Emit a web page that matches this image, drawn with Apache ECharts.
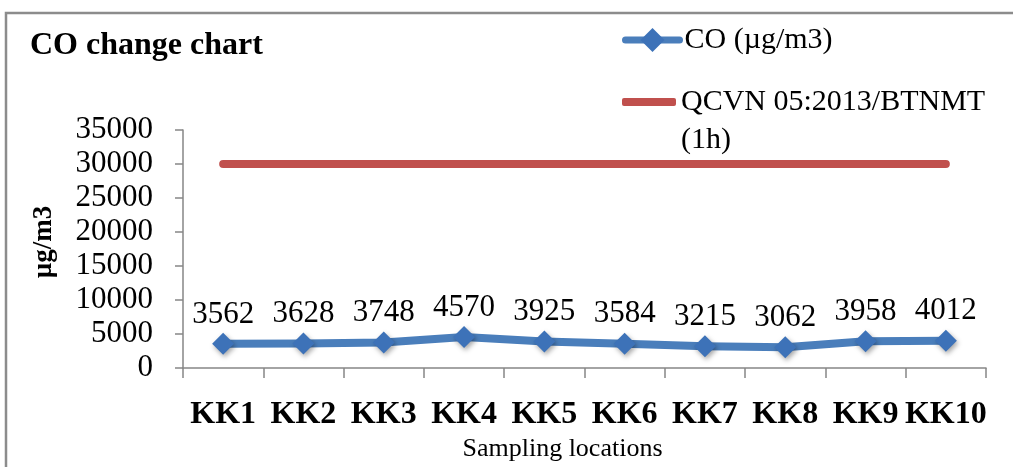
<!DOCTYPE html>
<html>
<head>
<meta charset="utf-8">
<title>CO change chart</title>
<script src="https://cdn.jsdelivr.net/npm/echarts@6/dist/echarts.min.js"></script>
<style>
  html, body { margin: 0; padding: 0; background: #ffffff; }
  #chart { width: 1013px; height: 467px; }
</style>
</head>
<body>
<div id="chart"></div>
<script>
// Sampling points and measured CO concentrations (µg/m3)
const categories = ['KK1', 'KK2', 'KK3', 'KK4', 'KK5', 'KK6', 'KK7', 'KK8', 'KK9', 'KK10'];
const coValues = [3562, 3628, 3748, 4570, 3925, 3584, 3215, 3062, 3958, 4012];
// 1-hour limit from QCVN 05:2013/BTNMT
const limitValues = [30000, 30000, 30000, 30000, 30000, 30000, 30000, 30000, 30000, 30000];
const yTicks = { min: 0, max: 35000, interval: 5000 };

const FONT = '"Liberation Serif", "Times New Roman", serif';
const AXIS_GREY = '#868686';
const CO_NAME = 'CO (µg/m3)';
const LIMIT_NAME = 'QCVN 05:2013/BTNMT\n(1h)';

const chart = echarts.init(document.getElementById('chart'), null, { renderer: 'canvas' });

chart.setOption({
  backgroundColor: '#ffffff',
  animation: false,
  title: {
    text: 'CO change chart',
    left: 30,
    top: 30,
    padding: 0,
    textStyle: { fontFamily: FONT, fontSize: 32, fontWeight: 'bold', color: '#000', lineHeight: 32 }
  },
  legend: [
    {
      data: [CO_NAME],
      left: 622,
      top: 25,
      padding: 0,
      itemWidth: 54,
      itemHeight: 30,
      lineStyle: { width: 7 },
      textStyle: { fontFamily: FONT, fontSize: 30, color: '#000', lineHeight: 30 }
    },
    {
      // a blank first line keeps the legend line level with the first text row
      data: [{ name: LIMIT_NAME, icon: 'roundRect' }],
      formatter: name => '\n' + name,
      left: 622,
      top: 45,
      padding: 0,
      itemWidth: 54,
      itemHeight: 8,
      textStyle: { fontFamily: FONT, fontSize: 30, color: '#000', lineHeight: 38 }
    }
  ],
  grid: { left: 183, right: 27, top: 130, bottom: 98, containLabel: false },
  xAxis: {
    type: 'category',
    data: categories,
    boundaryGap: true,
    name: 'Sampling locations',
    nameLocation: 'middle',
    nameGap: 63,
    nameTextStyle: { fontFamily: FONT, fontSize: 26, color: '#000', padding: [0, 44, 0, 0] },
    axisLine: { show: true, lineStyle: { color: AXIS_GREY, width: 1.5 } },
    axisTick: { show: true, length: 10, interval: 0, lineStyle: { color: AXIS_GREY, width: 1.5 } },
    axisLabel: { interval: 0, margin: 31, fontFamily: FONT, fontSize: 32, fontWeight: 'bold', color: '#000' },
    splitLine: { show: false }
  },
  yAxis: {
    type: 'value',
    min: yTicks.min,
    max: yTicks.max,
    interval: yTicks.interval,
    name: 'µg/m3',
    nameLocation: 'middle',
    nameGap: 125,
    nameRotate: 90,
    nameTextStyle: { fontFamily: FONT, fontSize: 27, fontWeight: 'bold', color: '#000', padding: [0, 0, 0, 14] },
    axisLine: { show: true, lineStyle: { color: AXIS_GREY, width: 1.5 } },
    axisTick: { show: true, length: 8, lineStyle: { color: AXIS_GREY, width: 1.5 } },
    axisLabel: { margin: 30, fontFamily: FONT, fontSize: 31, color: '#000', formatter: v => String(v) },
    splitLine: { show: false }
  },
  series: [
    {
      name: LIMIT_NAME,
      type: 'line',
      data: limitValues,
      symbol: 'none',
      lineStyle: { color: '#c0504d', width: 8, cap: 'round' },
      itemStyle: { color: '#c0504d' },
      z: 2
    },
    {
      name: CO_NAME,
      type: 'line',
      data: coValues,
      symbol: 'diamond',
      symbolSize: 22,
      lineStyle: { color: '#4a7ebb', width: 8, cap: 'round', join: 'round' },
      itemStyle: {
        color: '#3d72b8',
        shadowBlur: 5,
        shadowColor: 'rgba(0,0,0,0.35)',
        shadowOffsetX: 1.5,
        shadowOffsetY: 2.5
      },
      label: {
        show: true,
        position: 'top',
        distance: 3,
        fontFamily: FONT,
        fontSize: 31,
        color: '#000'
      },
      z: 3
    }
  ],
  graphic: [
    {
      type: 'rect',
      silent: true,
      shape: { x: 6, y: 13, width: 1040, height: 520 },
      style: { fill: 'none', stroke: '#8c8c8c', lineWidth: 2.5 }
    }
  ]
});
</script>
</body>
</html>
